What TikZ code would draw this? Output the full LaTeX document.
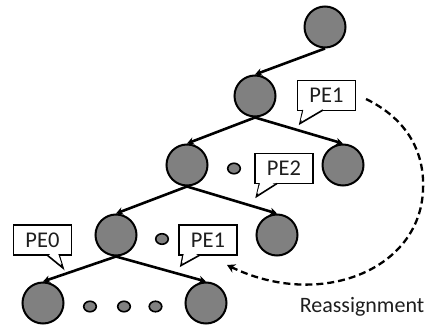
\documentclass[tikz,border=0pt]{standalone}
\usepackage{fontspec}
\setmainfont{Carlito}
\usetikzlibrary{arrows.meta,shapes.geometric}
\definecolor{nodegray}{RGB}{128,128,128}
\definecolor{txt}{RGB}{30,30,30}
\tikzset{
  treenode/.style={circle, draw=black, fill=nodegray, line width=2pt, minimum size=41pt, inner sep=0pt},
  smalldot/.style={ellipse, draw=black, fill=nodegray, line width=1.6pt, minimum width=12.5pt, minimum height=10.5pt, inner sep=0pt},
  edge/.style={line width=2.6pt, -{Stealth[length=7pt,width=7.5pt]}},
  pebox/.style={rectangle, draw=black, fill=white, line width=1.6pt, minimum width=58pt, minimum height=30pt, inner sep=0pt, outer sep=0pt, text=txt, font=\fontsize{22.5}{24}\selectfont},
  tail/.style={draw=black, fill=white, line width=1.6pt, line join=miter},
  reassign/.style={line width=2.3pt, dash pattern=on 7pt off 4pt, -{Stealth[length=8pt,width=9pt,inset=2.5pt]}},
}
\begin{document}
\begin{tikzpicture}[x=1pt,y=-1pt]
\useasboundingbox (0,0) rectangle (433,326);
% tree nodes
\node[treenode] (r)  at (325,27) {};
\node[treenode] (a)  at (255,96) {};
\node[treenode] (bl) at (187,165) {};
\node[treenode] (br) at (343,165) {};
\node[treenode] (cl) at (116,235) {};
\node[treenode] (cr) at (277,235) {};
\node[treenode] (dl) at (43,303) {};
\node[treenode] (dr) at (206,303) {};
% small dots
\node[smalldot] (s1) at (234,168.5) {};
\node[smalldot] (s2) at (162,239) {};
\node[smalldot] (s3) at (90,306.5) {};
\node[smalldot] (s4) at (124,306.5) {};
\node[smalldot] (s5) at (155.5,306.5) {};
% edges
\draw[edge] (r.south) -- (a.north);
\draw[edge] (a.south) -- (bl.north);
\draw[edge] (a.south) -- (br.north);
\draw[edge] (bl.south) -- (cl.north);
\draw[edge] (bl.south) -- (cr.north);
\draw[edge] (cl.south) -- (dl.north);
\draw[edge] (cl.south) -- (dr.north);
% callouts
\node[pebox] (p1a) at (326.5,95.5) {PE1};
\path[tail] (303,110) -- (300,123.5) -- (323,110);
\fill[white] (303.7,109) -- (300.7,120.5) -- (320.5,109) -- cycle;

\node[pebox] (p2) at (284,168.5) {PE2};
\path[tail] (259.5,183.5) -- (256.5,196.5) -- (277,183.5);
\fill[white] (260.2,182.5) -- (257.2,193.5) -- (274.5,182.5) -- cycle;

\node[pebox] (p0) at (42.5,240) {PE0};
\path[tail] (47,255) -- (63,268) -- (59,255);
\fill[white] (49.2,254) -- (61.5,264) -- (58.2,254) -- cycle;

\node[pebox] (p1b) at (208,240) {PE1};
\path[tail] (183,255) -- (181,265.5) -- (200,255);
\fill[white] (183.7,254) -- (182,262.5) -- (197.5,254) -- cycle;

% reassignment
\coordinate (rs) at (366,99);
\coordinate (rm) at (423,190);
\coordinate (re) at (227,265);
\draw[reassign] (rs) .. controls (405,118) and (425,150) .. (rm)
  .. controls (420,270) and (320,310) .. (re);
\node[font=\fontsize{22}{26}\selectfont, text=txt, anchor=base] (lbl) at (362,312) {Reassignment};
\end{tikzpicture}
\end{document}
